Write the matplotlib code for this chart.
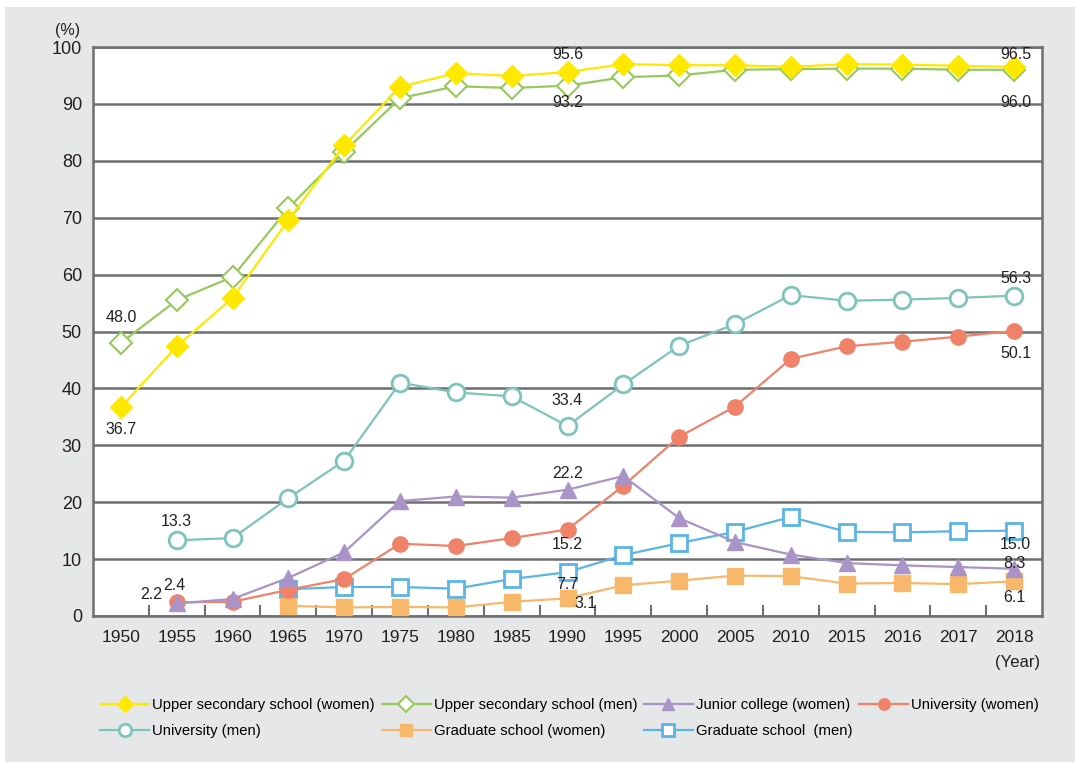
import matplotlib
matplotlib.use('Agg')
import matplotlib.pyplot as plt
from matplotlib.patches import Rectangle

plt.rcParams['font.family'] = ['Liberation Sans', 'DejaVu Sans']

years = ['1950', '1955', '1960', '1965', '1970', '1975', '1980', '1985', '1990',
         '1995', '2000', '2005', '2010', '2015', '2016', '2017', '2018']

upper_women = [36.7, 47.4, 55.9, 69.6, 82.7, 93.0, 95.4, 94.9, 95.6, 97.0, 96.8,
               96.8, 96.5, 97.0, 96.9, 96.7, 96.5]
upper_men = [48.0, 55.5, 59.6, 71.7, 81.6, 91.0, 93.1, 92.8, 93.2, 94.7, 95.0,
             96.0, 96.1, 96.2, 96.2, 96.0, 96.0]
junior_women = [None, 2.2, 3.0, 6.7, 11.2, 20.2, 21.0, 20.8, 22.2, 24.6, 17.2,
                13.0, 10.8, 9.3, 8.9, 8.6, 8.3]
univ_women = [None, 2.4, 2.5, 4.6, 6.5, 12.7, 12.3, 13.7, 15.2, 22.9, 31.5,
              36.8, 45.2, 47.4, 48.2, 49.1, 50.1]
univ_men = [None, 13.3, 13.7, 20.7, 27.3, 41.0, 39.3, 38.6, 33.4, 40.7, 47.5,
            51.3, 56.4, 55.4, 55.6, 55.9, 56.3]
grad_women = [None, None, None, 1.8, 1.5, 1.6, 1.5, 2.5, 3.1, 5.4, 6.2,
              7.1, 7.0, 5.7, 5.8, 5.6, 6.1]
grad_men = [None, None, None, 4.7, 5.1, 5.1, 4.8, 6.5, 7.7, 10.7, 12.8,
            14.8, 17.4, 14.8, 14.7, 14.9, 15.0]

# (series, index, text, dx, dy) for labelled values
labels = [
    (upper_men, 0, '48.0', 0, 4.4), (upper_women, 0, '36.7', 0, -4.0),
    (univ_men, 1, '13.3', 0, 3.3), (junior_women, 1, '2.2', -0.45, 1.5),
    (univ_women, 1, '2.4', -0.04, 3.0),
    (upper_women, 8, '95.6', 0, 3.0), (upper_men, 8, '93.2', 0, -3.0),
    (univ_men, 8, '33.4', 0, 4.4), (junior_women, 8, '22.2', 0, 2.9),
    (univ_women, 8, '15.2', 0, -2.7), (grad_men, 8, '7.7', 0, -2.1),
    (grad_women, 8, '3.1', 0.33, -0.9),
    (upper_women, 16, '96.5', 0.03, 2.1), (upper_men, 16, '96.0', 0.03, -5.8),
    (univ_men, 16, '56.3', 0.03, 3.1), (univ_women, 16, '50.1', 0.03, -3.9),
    (grad_men, 16, '15.0', 0.03, -2.5), (junior_women, 16, '8.3', 0, 0.85),
    (grad_women, 16, '6.1', 0, -2.8),
]

fig = plt.figure(figsize=(10.75, 7.62), dpi=100, facecolor='white')
fig.patches.append(Rectangle((5 / 1075, 0), 1, 1 - 7 / 762, transform=fig.transFigure,
                             facecolor='#e6e7e8', edgecolor='none', zorder=-10))
ax = fig.add_axes([93 / 1075, 1 - 616 / 762, (1042 - 93) / 1075, (616 - 47) / 762])
ax.set_facecolor('white')

x = list(range(len(years)))
lw = 1.6
h_gm, = ax.plot(x, grad_men, color='#5ab4e5', lw=lw, marker='s', ms=12,
                mfc='white', mec='#5ab4e5', mew=2, zorder=3)
h_gw, = ax.plot(x, grad_women, color='#f8b86b', lw=lw, marker='s', ms=12,
                mfc='#f8b86b', mec='#f8b86b', zorder=3)
h_um, = ax.plot(x, univ_men, color='#7dc4bb', lw=lw, marker='o', ms=12,
                mfc='white', mec='#7dc4bb', mew=2, zorder=3)
h_uw, = ax.plot(x, univ_women, color='#f0826a', lw=lw, marker='o', ms=11,
                mfc='#f0826a', mec='#f0826a', zorder=4)
h_jc, = ax.plot(x, junior_women, color='#a993c7', lw=lw, marker='^', ms=11,
                mfc='#a993c7', mec='#a993c7', zorder=5)
h_sm, = ax.plot(x, upper_men, color='#97c95c', lw=lw, marker='D', ms=11.5,
                mfc='white', mec='#97c95c', mew=1.5, zorder=3)
h_sw, = ax.plot(x, upper_women, color='#ffe800', lw=lw, marker='D', ms=11.5,
                mfc='#ffe800', mec='#ffe800', zorder=4)

for s, i, t, dx, dy in labels:
    ax.text(x[i] + dx, s[i] + dy, t, ha='center', va='center', fontsize=11.5,
            color='#231f20', zorder=6)

ax.set_xlim(-0.5, len(years) - 0.5)
ax.set_ylim(0, 100)
ax.set_yticks(range(0, 101, 10))
ax.set_xticks(x)
ax.set_xticklabels(years)
ax.set_xticks([i + 0.5 for i in x[:-1]], minor=True)
ax.tick_params(axis='x', which='major', length=0, pad=10, labelsize=12.5, colors='#231f20')
ax.tick_params(axis='x', which='minor', direction='in', length=8, width=1.5, color='#6d6e71')
ax.tick_params(axis='y', length=0, pad=8, labelsize=13, colors='#231f20')
ax.grid(axis='y', color='#6d6e71', lw=1.8, zorder=1)
ax.set_axisbelow(True)
for sp in ax.spines.values():
    sp.set_color('#6d6e71')
    sp.set_linewidth(1.8)

fig.text(68 / 1075, 1 - 31 / 762, '(%)', ha='center', va='center', fontsize=11.5, color='#231f20')
fig.text(1018 / 1075, 1 - 663 / 762, '(Year)', ha='center', va='center', fontsize=12, color='#231f20')

handles = [h_sw, h_um, h_sm, h_gw, h_jc, h_gm, h_uw]
names = ['Upper secondary school (women)', 'University (men)',
         'Upper secondary school (men)', 'Graduate school (women)',
         'Junior college (women)', 'Graduate school  (men)', 'University (women)']
leg = fig.legend(handles, names, ncol=4, loc='upper left',
                 bbox_to_anchor=(93 / 1075, 1 - 691 / 762), frameon=False,
                 fontsize=10.7, handlelength=3.3, handletextpad=0.2,
                 columnspacing=0.45, labelspacing=0.8, markerscale=0.75,
                 borderpad=0)

fig.savefig('out.png', dpi=100, facecolor=fig.get_facecolor())
